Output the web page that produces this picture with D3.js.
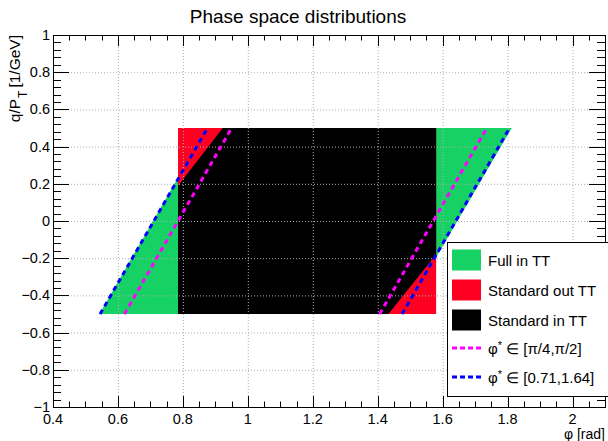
<!DOCTYPE html>
<html>
<head>
<meta charset="utf-8">
<script src="https://cdn.jsdelivr.net/npm/d3@7"></script>
<style>
  body { margin: 0; background: #fff; }
  svg { font-family: "Liberation Sans", Arial, Helvetica, sans-serif; }
</style>
</head>
<body>
<div id="chart"></div>
<script>
// Phase space distributions: q/pT vs phi, full / standard acceptance in TT

const title = "Phase space distributions";
const xDomain = [0.4, 2.1];
const yDomain = [-1, 1];
const xTickValues = [0.4, 0.6, 0.8, 1, 1.2, 1.4, 1.6, 1.8, 2];
const yTickValues = [-1, -0.8, -0.6, -0.4, -0.2, 0, 0.2, 0.4, 0.6, 0.8, 1];

// regions, [phi, q/pT] vertices
const fullInTT = [[0.543, -0.5], [0.873, 0.5], [1.813, 0.5], [1.478, -0.5]];
const standardOutTT = [[0.785, -0.5], [0.785, 0.5], [1.58, 0.5], [1.58, -0.5]];
const standardInTT = [[0.785, -0.5], [0.785, 0.19], [0.923, 0.5], [1.58, 0.5],
                      [1.58, -0.18], [1.433, -0.5]];

// dashed phi* boundaries
const phiStarPi = [[[0.620, -0.5], [0.950, 0.5]], [[1.406, -0.5], [1.736, 0.5]]];
const phiStarNum = [[[0.545, -0.5], [0.876, 0.5]], [[1.475, -0.5], [1.806, 0.5]]];

const legendLabels = ["Full in TT", "Standard out TT", "Standard in TT"];

const W = 608, H = 441;
const green = "#16d265", red = "#fe0022", black = "#000000";

const svg = d3.select("#chart").append("svg")
    .attr("width", W)
    .attr("height", H);

const x = d3.scaleLinear().domain(xDomain).range([53, 605]);
const y = d3.scaleLinear().domain(yDomain).range([407, 35]);

const line = d3.line().x(d => x(d[0])).y(d => y(d[1]));
const poly = pts => line(pts) + "Z";

// filled regions
svg.append("path").attr("d", poly(fullInTT)).attr("fill", green);
svg.append("path").attr("d", poly(standardOutTT)).attr("fill", red);
svg.append("path").attr("d", poly(standardInTT)).attr("fill", black);

// grid
const grid = svg.append("g")
    .attr("stroke", "#b0b0b0")
    .attr("stroke-width", 1)
    .attr("stroke-dasharray", "1,2");
xTickValues.slice(1).forEach(v => {
    grid.append("line")
        .attr("x1", x(v) + 0.5).attr("x2", x(v) + 0.5)
        .attr("y1", y(1)).attr("y2", y(-1));
});
yTickValues.slice(1, -1).forEach(v => {
    grid.append("line")
        .attr("x1", x(0.4)).attr("x2", x(2.1))
        .attr("y1", y(v) + 0.5).attr("y2", y(v) + 0.5);
});

// dashed lines
phiStarPi.forEach(seg => {
    svg.append("path").attr("d", line(seg))
        .attr("stroke", "#ff00ff").attr("stroke-width", 3)
        .attr("stroke-dasharray", "5,4").attr("fill", "none");
});
phiStarNum.forEach(seg => {
    svg.append("path").attr("d", line(seg))
        .attr("stroke", "#0000ff").attr("stroke-width", 3)
        .attr("stroke-dasharray", "5,4").attr("fill", "none");
});

// axes (ROOT style: ticks inside on all four sides)
const fmt = v => (v < 0 ? "\u2212" : "") + d3.format("~g")(Math.abs(v));

const xMinor = d3.range(0.4, 2.1001, 0.05);
const yMinor = d3.range(-1, 1.0001, 0.04);

const ticks = svg.append("g").attr("stroke", "#000").attr("stroke-width", 1);
xMinor.forEach(v => {
    const major = xTickValues.some(t => Math.abs(t - v) < 1e-6);
    const len = major ? 11 : 5.5;
    const px = Math.round(x(v)) + 0.5;
    ticks.append("line").attr("x1", px).attr("x2", px)
        .attr("y1", y(-1)).attr("y2", y(-1) - len);
    ticks.append("line").attr("x1", px).attr("x2", px)
        .attr("y1", y(1)).attr("y2", y(1) + len);
});
yMinor.forEach(v => {
    const major = yTickValues.some(t => Math.abs(t - v) < 1e-6);
    const len = major ? 16 : 8;
    const py = Math.round(y(v)) + 0.5;
    ticks.append("line").attr("x1", x(0.4)).attr("x2", x(0.4) + len)
        .attr("y1", py).attr("y2", py);
    ticks.append("line").attr("x1", x(2.1)).attr("x2", x(2.1) - len)
        .attr("y1", py).attr("y2", py);
});

// frame
svg.append("rect")
    .attr("x", x(0.4) + 0.5).attr("y", y(1) + 0.5)
    .attr("width", x(2.1) - x(0.4)).attr("height", y(-1) - y(1))
    .attr("fill", "none").attr("stroke", "#000").attr("stroke-width", 1);

// tick labels
svg.append("g").selectAll("text").data(xTickValues).join("text")
    .attr("x", d => x(d))
    .attr("y", 424)
    .attr("text-anchor", "middle")
    .attr("font-size", 14.5)
    .text(fmt);
svg.append("g").selectAll("text").data(yTickValues).join("text")
    .attr("x", 50)
    .attr("y", d => y(d) + 5)
    .attr("text-anchor", "end")
    .attr("font-size", 14.5)
    .text(fmt);

// titles
svg.append("text")
    .attr("x", 298).attr("y", 23)
    .attr("text-anchor", "middle")
    .attr("font-size", 19)
    .text(title);

svg.append("text")
    .attr("x", 605).attr("y", 439)
    .attr("text-anchor", "end")
    .attr("font-size", 14)
    .text("\u03c6 [rad]");

const yt = svg.append("text")
    .attr("transform", "translate(20,35) rotate(-90)")
    .attr("text-anchor", "end")
    .attr("font-size", 15.5);
yt.append("tspan").text("q/P");
yt.append("tspan").attr("dy", 7).attr("dx", 1).attr("font-size", 12).text("T");
yt.append("tspan").attr("dy", -7).attr("dx", 3).text("[1/GeV]");

// legend
const lg = svg.append("g");
lg.append("rect")
    .attr("x", 447.5).attr("y", 242.5)
    .attr("width", 170).attr("height", 154)
    .attr("fill", "#fff").attr("stroke", "#000").attr("stroke-width", 1);

const rowY = [260, 290, 320, 348, 377];
[green, red, black].forEach((c, i) => {
    lg.append("rect")
        .attr("x", 452).attr("y", rowY[i] - 10.5)
        .attr("width", 29).attr("height", 21)
        .attr("fill", c);
    lg.append("text")
        .attr("x", 488).attr("y", rowY[i] + 5.5)
        .attr("font-size", 15)
        .text(legendLabels[i]);
});
[["#ff00ff", "[\u03c0/4,\u03c0/2]"], ["#0000ff", "[0.71,1.64]"]].forEach(([c, rng], j) => {
    const yy = rowY[3 + j];
    lg.append("line")
        .attr("x1", 452).attr("x2", 481)
        .attr("y1", yy).attr("y2", yy)
        .attr("stroke", c).attr("stroke-width", 3)
        .attr("stroke-dasharray", "5,3");
    const t = lg.append("text")
        .attr("x", 488).attr("y", yy + 5.5)
        .attr("font-size", 15);
    t.append("tspan").text("\u03c6");
    t.append("tspan").attr("dy", -5).attr("font-size", 11).text("*");
    t.append("tspan").attr("dy", 5).text(" \u2208 " + rng);
});
</script>
</body>
</html>
